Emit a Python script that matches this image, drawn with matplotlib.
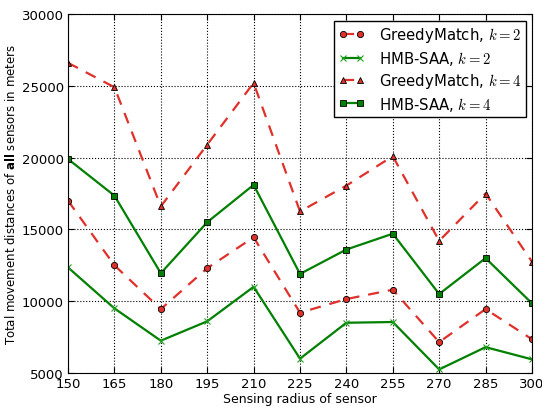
import matplotlib
matplotlib.use('Agg')
import matplotlib.pyplot as plt

# Sensing radius values on the x axis
radius = [150, 165, 180, 195, 210, 225, 240, 255, 270, 285, 300]

# total movement distance
greedy_k2 = [17000, 12500, 9450, 12300, 14450, 9200, 10150, 10800, 7150, 9450, 7350]
hmb_k2 = [12350, 9500, 7250, 8600, 11000, 6000, 8500, 8550, 5250, 6800, 5950]
greedy_k4 = [26600, 24900, 16600, 20900, 25200, 16250, 18050, 20100, 14200, 17500, 12750]
hmb_k4 = [19900, 17350, 11950, 15500, 18100, 11900, 13600, 14700, 10500, 13000, 9850]

plt.rcParams['mathtext.fontset'] = 'cm'
plt.rcParams['font.size'] = 9
plt.rcParams['xtick.direction'] = 'in'
plt.rcParams['ytick.direction'] = 'in'

red = '#e0302a'
green = '#008000'

fig = plt.figure(figsize=(5.42, 4.10), dpi=100)
ax = fig.add_axes([0.1255, 0.0878, 0.856, 0.8756])

ax.plot(radius, greedy_k2, '--', color=red, lw=1.6, marker='o', ms=4.5,
        mfc=red, mec='black', mew=0.6, dashes=(5, 4), label=r'GreedyMatch, $k=2$')
ax.plot(radius, hmb_k2, '-', color=green, lw=1.6, marker='x', ms=4.5,
        mec='#20a020', mew=0.8, label=r'HMB-SAA, $k=2$')
ax.plot(radius, greedy_k4, '--', color=red, lw=1.6, marker='^', ms=4.5,
        mfc=red, mec='black', mew=0.6, dashes=(5, 4), label=r'GreedyMatch, $k=4$')
ax.plot(radius, hmb_k4, '-', color=green, lw=1.6, marker='s', ms=4.2,
        mfc=green, mec='black', mew=0.6, label=r'HMB-SAA, $k=4$')

ax.set_xlim(150, 300)
ax.set_ylim(5000, 30000)
ax.set_xticks(radius)
ax.set_yticks(range(5000, 30001, 5000))
ax.tick_params(top=True, right=True, length=4, labelsize=9.5, pad=3)
ax.grid(True, color='black', linestyle=':', linewidth=0.8)

ax.set_xlabel('Sensing radius of sensor', fontsize=9, labelpad=1)
ax.set_ylabel(r'Total movement distances of $\mathbf{all}$ sensors in meters',
              fontsize=8.5, math_fontfamily='dejavusans', labelpad=3)

leg = ax.legend(loc='upper right', fontsize=10.7, fancybox=False, numpoints=2,
                bbox_to_anchor=(0.987, 0.981), borderaxespad=0,
                handlelength=1.7, handletextpad=1.0,
                labelspacing=0.3, borderpad=0.3, framealpha=1)
leg.get_frame().set_edgecolor('black')

fig.savefig('out.png', dpi=100)
